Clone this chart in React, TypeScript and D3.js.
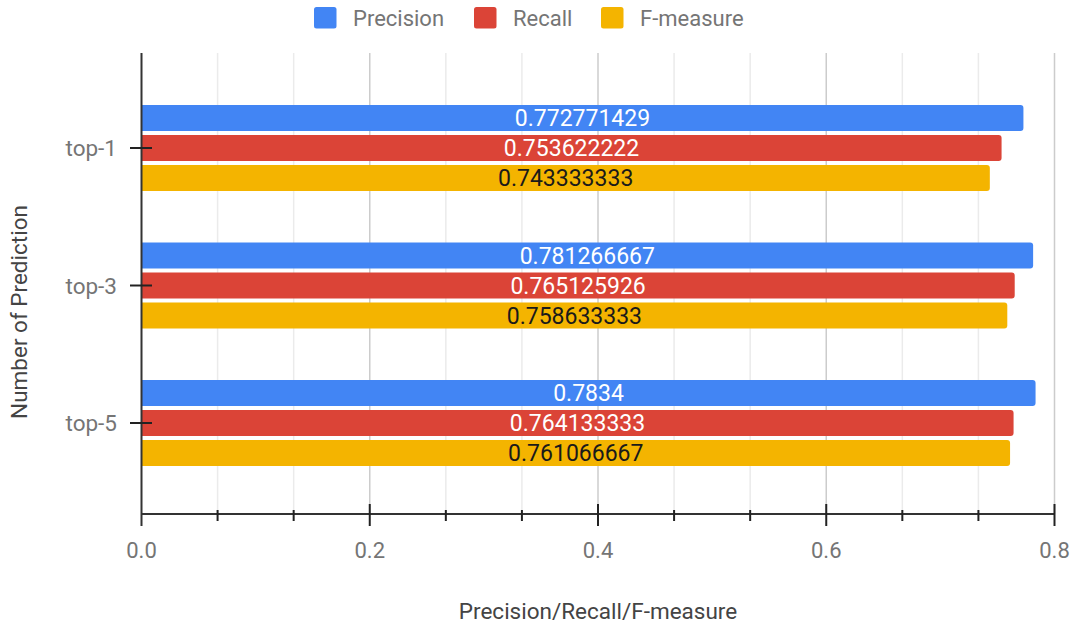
import React from "react";
import * as d3 from "d3";

const categories = ["top-1", "top-3", "top-5"];
const seriesNames = ["Precision", "Recall", "F-measure"];
const precision = [0.772771429, 0.781266667, 0.7834];
const recall = [0.753622222, 0.765125926, 0.764133333];
const fmeasure = [0.743333333, 0.758633333, 0.761066667];
const xTickLabels = ["0.0", "0.2", "0.4", "0.6", "0.8"];

const seriesValues = [precision, recall, fmeasure];
const colors = ["#4285F4", "#DB4437", "#F4B400"];
const labelColors = ["#ffffff", "#ffffff", "#1a1a1a"];

const W = 1074;
const H = 625;
const FONT = "Roboto, 'Noto Sans', sans-serif";

export default function App() {
  const x = d3.scaleLinear().domain([0, 0.8]).range([141.5, 1054.5]);
  const plotTop = 53;
  const plotBottom = 514;
  const y = d3.scaleBand<string>().domain(categories).range([79.25, 491.75]).padding(0);
  const inner = d3
    .scaleBand<string>()
    .domain(seriesNames)
    .range([0, 86])
    .paddingInner(4 / 30)
    .paddingOuter(0);

  const gridVals = d3.range(0, 13).map((i) => (i * 0.2) / 3);
  const majorVals = xTickLabels.map((t) => +t);

  const roundedRight = (x0: number, y0: number, w: number, h: number, r: number) => {
    const p = d3.path();
    p.moveTo(x0, y0);
    p.lineTo(x0 + w - r, y0);
    p.arcTo(x0 + w, y0, x0 + w, y0 + r, r);
    p.lineTo(x0 + w, y0 + h - r);
    p.arcTo(x0 + w, y0 + h, x0 + w - r, y0 + h, r);
    p.lineTo(x0, y0 + h);
    p.closePath();
    return p.toString();
  };

  const legendItems = [
    { name: seriesNames[0], sx: 314, tx: 353 },
    { name: seriesNames[1], sx: 474, tx: 513 },
    { name: seriesNames[2], sx: 601, tx: 640 },
  ];

  return (
    <svg
      width={W}
      height={H}
      style={{ position: "absolute", left: 0, top: 0, background: "#fff" }}
      fontFamily={FONT}
    >
      {gridVals.map((v, i) => {
        const major = i % 3 === 0;
        if (i === 0) return null;
        return (
          <line
            key={"g" + i}
            x1={x(v)}
            x2={x(v)}
            y1={plotTop}
            y2={plotBottom}
            stroke={major ? "#cccccc" : "#ebebeb"}
            strokeWidth={1.5}
          />
        );
      })}

      {categories.map((c, ci) =>
        seriesNames.map((s, si) => {
          const v = seriesValues[si][ci];
          const y0 = (y(c) as number) + y.bandwidth() / 2 - 43 + (inner(s) as number);
          const h = inner.bandwidth();
          const x0 = x(0);
          const w = x(v) - x0;
          return (
            <g key={c + s}>
              <path d={roundedRight(x0, y0, w, h, 3)} fill={colors[si]} />
              <text
                x={x0 + w / 2}
                y={y0 + h / 2}
                dy="0.36em"
                textAnchor="middle"
                fontSize={23}
                fill={labelColors[si]}
              >
                {String(v)}
              </text>
            </g>
          );
        })
      )}

      <line x1={x(0)} x2={x(0)} y1={plotTop} y2={526} stroke="#333" strokeWidth={2} />
      {categories.map((c) => {
        const cy = (y(c) as number) + y.bandwidth() / 2;
        return (
          <g key={"yt" + c}>
            <line x1={130} x2={152} y1={cy} y2={cy} stroke="#222" strokeWidth={2} />
            <text x={117} y={cy} dy="0.36em" textAnchor="end" fontSize={22.5} fill="#757575">
              {c}
            </text>
          </g>
        );
      })}

      <line x1={x(0)} x2={x(0.8)} y1={plotBottom} y2={plotBottom} stroke="#333" strokeWidth={2} />
      {gridVals.map((v, i) => {
        if (i === 0) return null;
        const major = i % 3 === 0;
        return (
          <line
            key={"t" + i}
            x1={x(v)}
            x2={x(v)}
            y1={major ? 504 : 510}
            y2={major ? 526 : 521}
            stroke="#222"
            strokeWidth={2}
          />
        );
      })}
      {majorVals.map((v, i) => (
        <text key={"xl" + i} x={x(v)} y={558} textAnchor="middle" fontSize={22} fill="#757575">
          {xTickLabels[i]}
        </text>
      ))}

      <text x={598} y={619} textAnchor="middle" fontSize={22.5} fill="#444">
        Precision/Recall/F-measure
      </text>
      <text
        transform="translate(27,312) rotate(-90)"
        textAnchor="middle"
        fontSize={22.5}
        fill="#444"
      >
        Number of Prediction
      </text>

      {legendItems.map((l, i) => (
        <g key={"lg" + i}>
          <rect x={l.sx} y={7} width={22.5} height={21.5} rx={2.5} fill={colors[i]} />
          <text x={l.tx} y={25.5} fontSize={22} fill="#757575">
            {l.name}
          </text>
        </g>
      ))}
    </svg>
  );
}
